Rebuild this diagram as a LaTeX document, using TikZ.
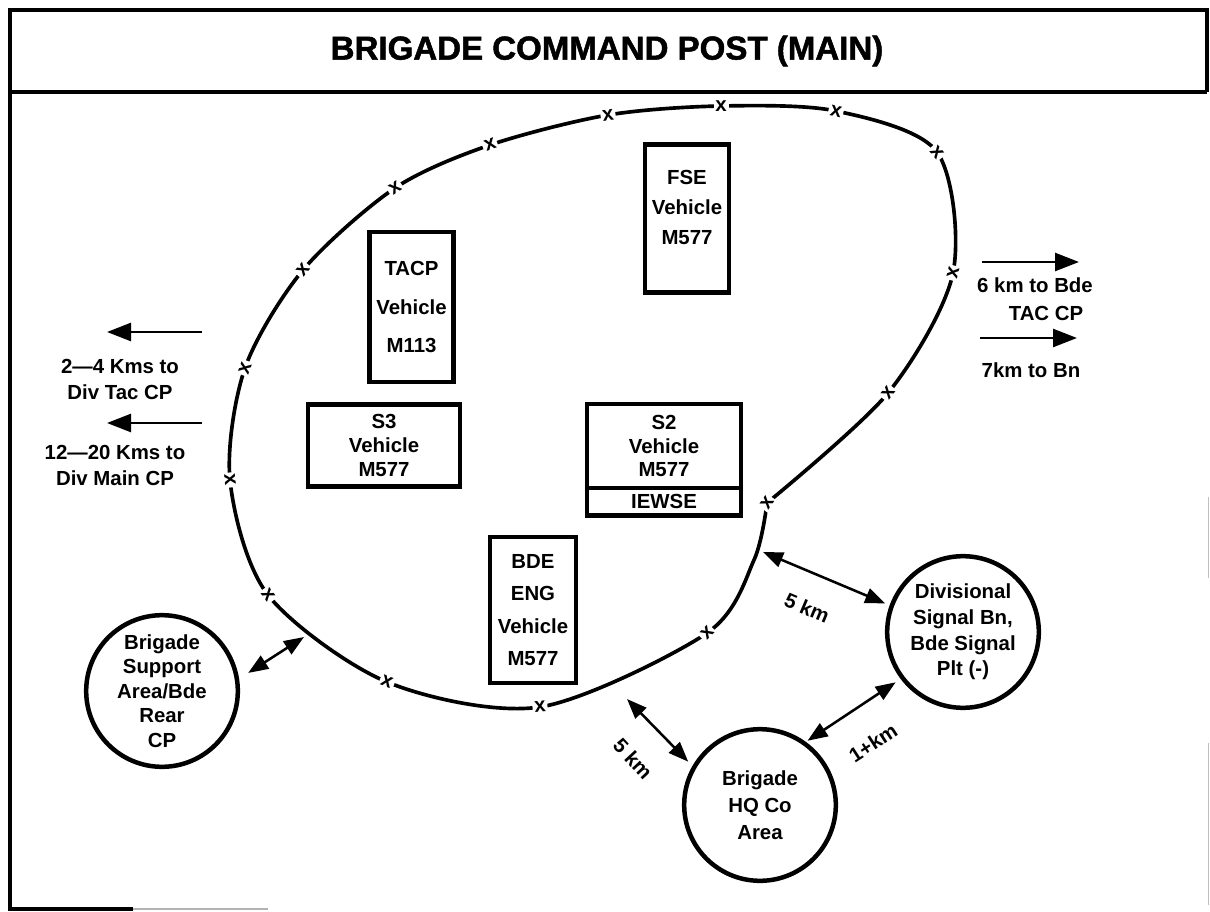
\documentclass[tikz,border=0pt]{standalone}
\usepackage{fontspec}
\setmainfont{Liberation Sans}
\newfontfamily\titlefont{Liberation Sans}[FakeBold=1.5]
\usetikzlibrary{arrows.meta, positioning}

\begin{document}
\begin{tikzpicture}[
    x=0.025cm, y=-0.025cm,
    vbox/.style={
        rectangle,
        draw,
        line width=3.2pt,
        inner sep=2pt,
        outer sep=0pt,
        align=center,
        font=\fontsize{14.5}{#1}\selectfont\bfseries
    },
    vbox/.default=18pt,
    area/.style={
        circle,
        draw,
        line width=3.2pt,
        inner sep=0pt,
        minimum size=3.79cm,
        align=center,
        font=\fontsize{14.5}{#1}\selectfont\bfseries
    },
    note/.style={
        align=center,
        inner sep=1pt,
        font=\fontsize{14.5}{#1}\selectfont\bfseries
    },
    note/.default=18pt,
    xmark/.style={
        fill=white,
        inner sep=1.3pt,
        font=\fontsize{14.5}{17}\selectfont\bfseries
    },
    perimeter/.style={
        line width=2.6pt
    },
    frame/.style={
        line width=3.5pt
    },
    arrow/.style={
        -{Triangle[length=6mm, width=4.5mm]},
        line width=1.8pt
    },
    dblarrow/.style={
        {Triangle[length=5mm, width=3.8mm]}-{Triangle[length=5mm, width=3.8mm]},
        line width=1.8pt
    }
]
\useasboundingbox (0,0) rectangle (1210,912);

% Frame and title
\draw[frame] (133,909) -- (10,909) -- (10,10) -- (1207,10) -- (1207,92);
\draw[frame] (10,92) -- (1207,92);
\draw[gray!60, line width=1.2pt] (133,909) -- (268,909);
\draw[gray!50, line width=0.6pt] (1208,497) -- (1208,578);
\draw[gray!50, line width=0.6pt] (1208,743) -- (1208,905);
\node[font=\titlefont\bfseries\fontsize{23.5}{28}\selectfont] (title) at (607,51) {BRIGADE COMMAND POST (MAIN)};

% Command post perimeter (bends at the mark beside IEWSE)
\draw[perimeter] plot[smooth] coordinates {
    (767,503) (754,560) (707,633) (540,707) (387,682) (268,595)
    (230,480) (245,368) (303,270) (395,188) (490,145) (608,115)
    (721,106) (836,111) (937,152) (953,273) (888,393) (767,503)};

\foreach \xx/\yy/\ang [count=\i] in {
    721/106/0, 836/111/-12, 937/152/-50, 953/273/76, 888/393/53, 767/503/55,
    707/633/45, 540/707/5, 387/682/-22, 268/595/-53, 230/480/-84, 245/368/70,
    303/270/50, 395/188/33, 490/145/20, 608/115/8}
    \node[xmark, rotate=\ang] (xm\i) at (\xx,\yy) {x};

% Vehicles
\node[vbox=27.4pt, minimum width=2.11cm, minimum height=3.74cm] (tacp) at (411.5,307) {TACP\\Vehicle\\M113};
\node[vbox, minimum width=2.09cm, minimum height=3.71cm] (fse) at (687,218.5) {};
\node[note=21pt] (fsetext) at (687,207.5) {FSE\\Vehicle\\M577};
\node[vbox=17.4pt, minimum width=3.79cm, minimum height=2.06cm] (s3) at (384,445.5) {S3\\Vehicle\\M577};
\node[vbox=16.7pt, minimum width=3.84cm, minimum height=2.09cm] (s2) at (664,446) {S2\\Vehicle\\M577};
\node[vbox, minimum width=3.84cm, minimum height=0.69cm, below=0pt of s2] (iewse) {IEWSE};
\node[vbox=23pt, minimum width=2.14cm, minimum height=3.64cm] (bdeeng) at (533,610) {BDE\\ENG\\Vehicle\\M577};

% Outlying areas
\node[area=17.4pt] (bsa) at (162,691) {Brigade\\Support\\Area/Bde\\Rear\\CP};
\node[area=18.2pt] (divsig) at (963,632) {Divisional\\Signal Bn,\\Bde Signal\\Plt (-)};
\node[area=19.2pt] (hqco) at (760,805) {Brigade\\HQ Co\\Area};

% Distances to higher and lower CPs
\coordinate (tactail) at (202,332);
\coordinate (tachead) at (107,332);
\coordinate (maintail) at (202,423);
\coordinate (mainhead) at (107,423);
\draw[arrow] (tactail) -- (tachead);
\draw[arrow] (maintail) -- (mainhead);
\node[note=18.5pt] (divtac) at (120,379) {2—4 Kms to\\Div Tac CP};
\node[note=18.5pt] (divmain) at (115,465) {12—20 Kms to\\Div Main CP};

\coordinate (bdetail) at (982,262);
\coordinate (bdehead) at (1079,262);
\coordinate (bntail) at (980,338);
\coordinate (bnhead) at (1077,338);
\draw[arrow] (bdetail) -- (bdehead);
\draw[arrow] (bntail) -- (bnhead);
\node[note=19.9pt] (bdetac) at (1035,299) {6 km to Bde\\\hspace*{0.55cm}TAC CP};
\node[note] (bn) at (1031,370) {7km to Bn};

% Links to the outlying areas
\coordinate (bsaloop) at (304,637);
\coordinate (divloop) at (763,552);
\coordinate (hqloop) at (627,699);
\draw[dblarrow, shorten <=0.27cm] (bsa.9) -- (bsaloop);
\draw[dblarrow, shorten >=0.12cm] (divloop) -- (divsig.160);
\draw[dblarrow, shorten >=0.15cm] (hqloop) -- (hqco.150);
\draw[dblarrow, shorten <=0.05cm, shorten >=0.15cm] (hqco.54) -- (divsig.217);

\node[note, rotate=-23] (kmdiv) at (807,608) {5 km};
\node[note, rotate=-47] (kmhq) at (633,759) {5 km};
\node[note, rotate=33] (kmlink) at (873,743) {1+km};

\end{tikzpicture}
\end{document}
